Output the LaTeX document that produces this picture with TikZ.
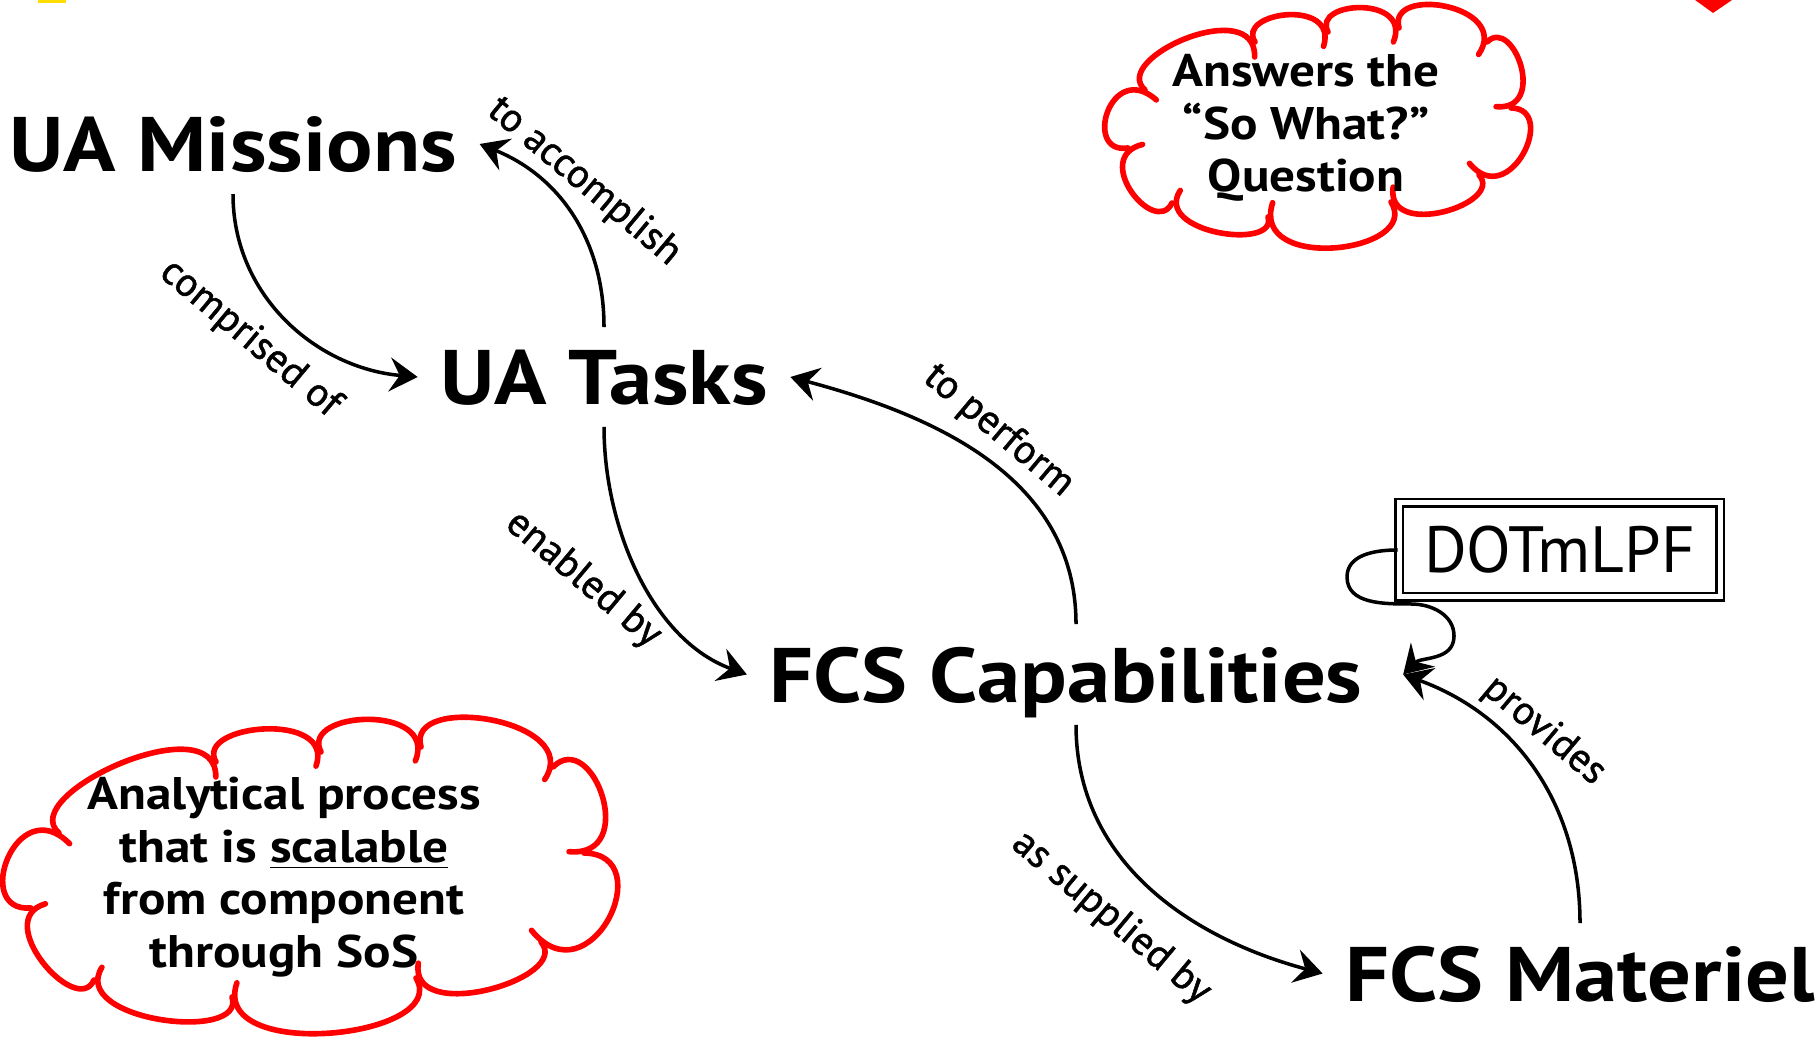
\documentclass[tikz,border=0pt]{standalone}
\usepackage{fontspec}
\setmainfont{PT Sans}[FakeStretch=1.12]
\newfontfamily\plainfont{PT Sans}
\newfontfamily\labelfont{PT Sans}[FakeBold=1.2]
\usetikzlibrary{arrows.meta}

\tikzset{
  concept/.style={font=\bfseries\fontsize{22}{26}\selectfont, inner sep=0.22cm, text depth=0pt},
  link/.style={-{Stealth[length=0.28cm,width=0.34cm,inset=0.1cm]}, line width=1pt},
  linklabel/.style={font=\labelfont\fontsize{11.5}{13}\selectfont, rotate=-40, inner sep=0pt},
  puff/.style={draw=red, line width=1.6pt, line cap=round, shorten >=-0.15cm},
  thoughttext/.style={align=center, font=\bfseries\fontsize{13}{15}\selectfont}
}

\begin{document}
\begin{tikzpicture}
    \useasboundingbox (0,0) rectangle (18.17,10.40);
    \fill[white] (0,0) rectangle (18.17,10.40);

    % clipped bits at the top edge
    \fill[yellow!80!orange] (0.38,10.37) rectangle (0.66,10.40);
    \fill[red] (16.95,10.40) -- (17.32,10.40) -- (17.13,10.27) -- cycle;

    \node[concept] (missions) at (2.33,8.96) {UA Missions};
    \node[concept] (tasks) at (6.04,6.63) {UA Tasks};
    \node[concept] (caps) at (10.66,3.655) {FCS Capabilities};
    \node[concept] (materiel) at (15.80,0.665) {FCS Materiel};

    \node[draw, double, line width=0.8pt, double distance=0.05cm,
          minimum width=3.21cm, minimum height=0.94cm,
          font=\plainfont\fontsize{18.6}{22}\selectfont] (dotmlpf) at (15.595,4.90) {DOTmLPF};

    \draw[link] (missions.south) to[out=-90,in=175] (tasks.west);
    \draw[link] (tasks.north) to[out=90,in=-22] (missions.east);
    \draw[link] (tasks.south) to[out=-90,in=160,looseness=0.9] (caps.west);
    \draw[link] ([xshift=0.1cm]caps.north) to[out=90,in=-15] (tasks.east);
    \draw[link] ([xshift=0.1cm]caps.south) to[out=-90,in=165] (materiel.west);
    \draw[link] (materiel.north) to[out=90,in=-20] ([xshift=0.18cm]caps.east);

    % loop from the box
    \coordinate (loopL) at (13.47,4.63);
    \coordinate (loopB) at (14.11,4.36);
    \coordinate (loopC) at (14.54,4.04);
    \draw[link] (dotmlpf.west) to[out=180,in=90] (loopL) to[out=-90,in=180] (loopB)
        to[out=0,in=90] (loopC) to[out=-90,in=45] ([xshift=0.18cm]caps.east);

    % link labels
    \node[linklabel] (comprised) at (2.50,7.01) {comprised of};
    \node[linklabel] (accomplish) at (5.84,8.58) {to accomplish};
    \node[linklabel] (enabled) at (5.83,4.60) {enabled by};
    \node[linklabel] (perform) at (9.985,6.09) {to perform};
    \node[linklabel] (supplied) at (11.11,1.22) {as supplied by};
    \node[linklabel] (provides) at (15.44,3.09) {provides};

    % cloud top right
    \coordinate (sw1) at (11.45,9.50);
    \coordinate (sw2) at (12.55,9.98);
    \coordinate (sw3) at (13.28,10.08);
    \coordinate (sw4) at (13.99,10.12);
    \coordinate (sw5) at (14.87,9.98);
    \coordinate (sw6) at (15.11,9.32);
    \coordinate (sw7) at (14.79,8.65);
    \coordinate (sw8) at (13.91,8.38);
    \coordinate (sw9) at (12.68,8.23);
    \coordinate (sw10) at (11.72,8.37);
    \coordinate (sw11) at (11.28,8.92);
    \foreach \a/\b/\l in {sw1/sw2/1.02, sw2/sw3/1.24, sw3/sw4/1.28, sw4/sw5/1.28,
        sw5/sw6/1.36, sw6/sw7/1.64, sw7/sw8/1.08, sw8/sw9/1.23, sw9/sw10/0.94,
        sw10/sw11/1.41, sw11/sw1/1.96}
        \draw[puff] (\a) to[bend left=115, looseness=\l] (\b);
    \node[thoughttext] (sowhat) at (13.06,9.12) {Answers the\\“So What?”\\Question};

    % cloud bottom left
    \coordinate (sc1) at (0.59,2.07);
    \coordinate (sc2) at (2.16,2.78);
    \coordinate (sc3) at (3.21,2.88);
    \coordinate (sc4) at (4.21,2.93);
    \coordinate (sc5) at (5.53,2.73);
    \coordinate (sc6) at (5.84,1.87);
    \coordinate (sc7) at (5.41,0.98);
    \coordinate (sc8) at (4.16,0.62);
    \coordinate (sc9) at (2.32,0.43);
    \coordinate (sc10) at (0.94,0.60);
    \coordinate (sc11) at (0.31,1.32);
    \foreach \a/\b/\l in {sc1/sc2/0.87, sc2/sc3/1.07, sc3/sc4/1.20, sc4/sc5/1.10,
        sc5/sc6/1.57, sc6/sc7/2.0, sc7/sc8/0.95, sc8/sc9/0.97, sc9/sc10/0.89,
        sc10/sc11/1.13, sc11/sc1/1.92}
        \draw[puff] (\a) to[bend left=115, looseness=\l] (\b);
    \node[thoughttext] (scalable) at (2.84,1.63)
        {Analytical process\\that is \underline{scalable}\\from component\\through SoS};
\end{tikzpicture}
\end{document}
